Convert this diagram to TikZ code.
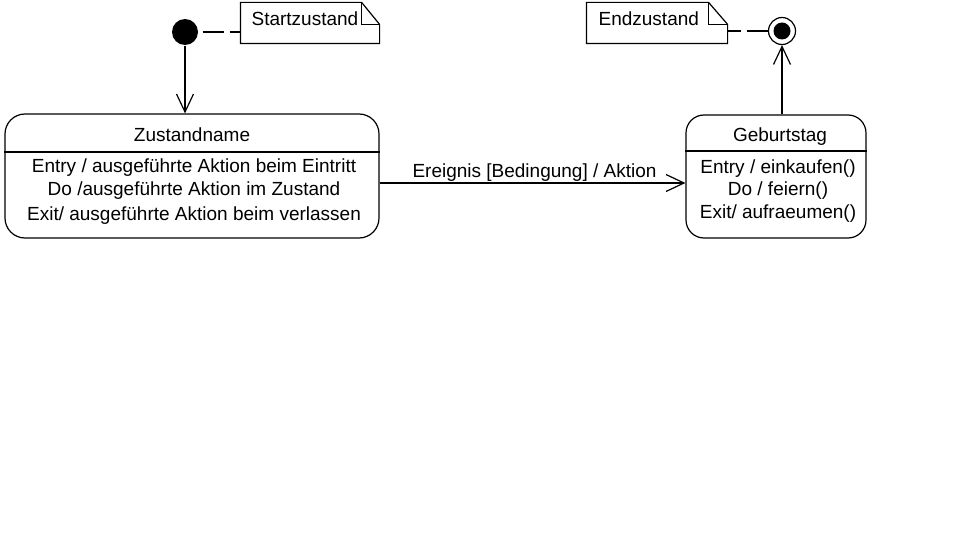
\documentclass[tikz,border=0pt]{standalone}
\usepackage{fontspec}
\setmainfont{Liberation Sans}
\usetikzlibrary{arrows.meta,calc}
\begin{document}
\begin{tikzpicture}[x=1pt,y=-1pt,line width=1.2pt,
  txt/.style={inner sep=0pt,anchor=base,font=\fontsize{19}{22}\selectfont},
  lefttxt/.style={txt,anchor=base west},
  openarrow/.style={-{Straight Barb[length=18pt,width=17pt]}},
  statebox/.style={draw,rectangle,inner sep=0pt},
  notebox/.style={inner sep=0pt,minimum width=138pt,minimum height=40pt},
  notelink/.style={line width=1.2pt,dash pattern=on 21pt off 6pt}]
\useasboundingbox[fill=white] (0,0) rectangle (960,540);

% start state and its note
\node[circle,fill=black,inner sep=0pt,minimum size=26pt] (start) at (185,32) {};
\node[notebox] (snote) at (310,23) {};
\draw (snote.south west) -- (snote.north west) -- ($(snote.north east)+(-18,0)$)
      -- ($(snote.north east)+(0,22)$) -- (snote.south east) -- cycle;
\draw ($(snote.north east)+(-18,0)$) -- ($(snote.north east)+(-18,22)$) -- ($(snote.north east)+(0,22)$);
\node[lefttxt] (snotetxt) at (251,26) {Startzustand};
\draw[notelink] ([xshift=4pt]start.east) -- (start.east -| snote.west);

% end state and its note
\node[circle,draw,inner sep=0pt,minimum size=27pt] (end) at (782,31) {};
\fill (end.center) circle (8.5);
\node[notebox,minimum width=140pt] (enote) at (657,23) {};
\draw (enote.south west) -- (enote.north west) -- ($(enote.north east)+(-19,0)$)
      -- ($(enote.north east)+(0,22)$) -- (enote.south east) -- cycle;
\draw ($(enote.north east)+(-19,0)$) -- ($(enote.north east)+(-19,22)$) -- ($(enote.north east)+(0,22)$);
\node[lefttxt] (enotetxt) at (598,26) {Endzustand};
\draw[notelink] (end.west) -- (end.west -| enote.east);

% state Zustandname
\node[statebox,rounded corners=20pt,minimum width=374pt,minimum height=124pt] (zbox) at (192,176) {};
\draw (zbox.west |- 0,152) -- (zbox.east |- 0,152);
\node[txt] (ztitle) at (192,142) {Zustandname};
\node[txt] (zentry) at (194,173) {Entry / ausgeführte Aktion beim Eintritt};
\node[txt] (zdo) at (194,196) {Do /ausgeführte Aktion im Zustand};
\node[txt] (zexit) at (194,220) {Exit/ ausgeführte Aktion beim verlassen};

% state Geburtstag
\node[statebox,rounded corners=18pt,minimum width=180pt,minimum height=123pt] (gbox) at (776,176.5) {};
\draw (gbox.west |- 0,151) -- (gbox.east |- 0,151);
\node[txt] (gtitle) at (780,142) {Geburtstag};
\node[txt] (gentry) at (778,174) {Entry / einkaufen()};
\node[txt] (gdo) at (778,196) {Do / feiern()};
\node[txt] (gexit) at (778,218) {Exit/ aufraeumen()};

% transitions
\draw[openarrow] (start.south) -- (start.south |- zbox.north);
\coordinate (ty) at (0,183);
\draw[openarrow] (zbox.east |- ty) -- (gbox.west |- ty);
\node[txt] (tlabel) at (534.5,178) {Ereignis [Bedingung] / Aktion};
\draw[openarrow] (end.south |- gbox.north) -- (end.south);
\end{tikzpicture}
\end{document}
